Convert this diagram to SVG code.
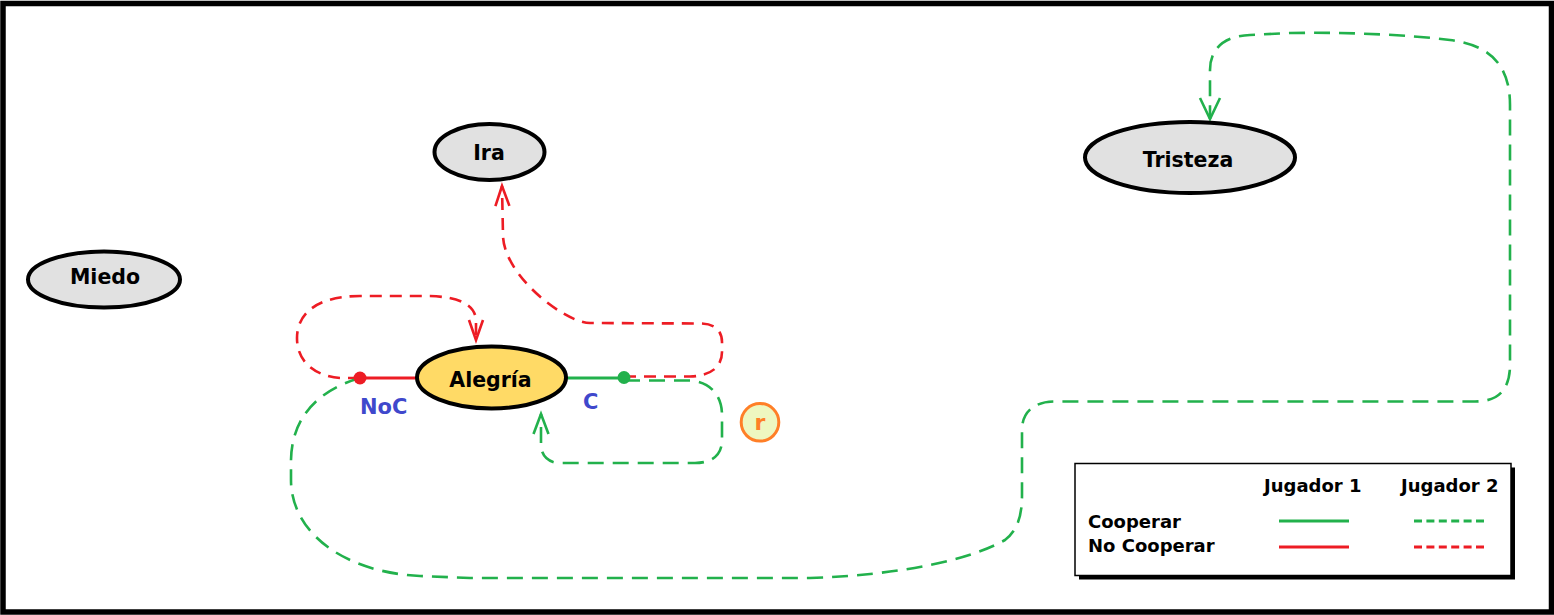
<svg xmlns="http://www.w3.org/2000/svg" width="1554" height="615" viewBox="0 0 1554 615">
<style>
.node{stroke:#000;stroke-width:4}
.gray{fill:#E1E1E1}
.lbl{font-family:"DejaVu Sans","Liberation Sans",sans-serif;font-weight:bold;font-size:20.5px;fill:#000;text-anchor:middle}
.lg{font-family:"DejaVu Sans","Liberation Sans",sans-serif;font-weight:bold;font-size:18px;fill:#000}
.act{font-family:"DejaVu Sans","Liberation Sans",sans-serif;font-weight:bold;font-size:21px;fill:#3F48CC}
.gd{fill:none;stroke:#22B14C;stroke-width:2.6;stroke-dasharray:16 9}
.rd{fill:none;stroke:#ED1C24;stroke-width:2.6;stroke-dasharray:12 8}
.gs{stroke:#22B14C;stroke-width:3}
.rs{stroke:#ED1C24;stroke-width:3}
</style>
<defs>
<marker id="arrR" markerUnits="userSpaceOnUse" orient="auto" refX="0" refY="0" markerWidth="30" markerHeight="30" viewBox="-25 -15 30 30" overflow="visible">
<path d="M-20,-7 L0,0 L-20,7" fill="none" stroke="#ED1C24" stroke-width="2.6"/>
</marker>
<marker id="arrG" markerUnits="userSpaceOnUse" orient="auto" refX="0" refY="0" markerWidth="30" markerHeight="30" viewBox="-25 -15 30 30" overflow="visible">
<path d="M-20,-7.5 L0,0 L-20,7.5" fill="none" stroke="#22B14C" stroke-width="2.6"/>
</marker>
<marker id="arrG2" markerUnits="userSpaceOnUse" orient="auto" refX="0" refY="0" markerWidth="30" markerHeight="30" viewBox="-25 -15 30 30" overflow="visible">
<path d="M-21,-10 L0,0 L-21,10" fill="none" stroke="#22B14C" stroke-width="2.6"/>
</marker>
</defs>
<rect x="3" y="3.5" width="1548.5" height="608.5" fill="#fff" stroke="#000" stroke-width="5.5"/>

<g id="connectors">
<path class="rd" d="M360,378 L340,378 C315,376 297,362 297,338 C297,315 315,296 360,296 L430,296 C460,297 475,305 476,320 L476,340" marker-end="url(#arrR)"/>
<path class="rd" d="M624,376.5 L690,376.5 C712,376 722,366 722,352 L722,342 C722,330 714,323.5 700,323.5 L590,323 C565,323 503,275 503,235 L502,186" marker-end="url(#arrR)"/>
<path class="gd" d="M624,380.5 L690,380.5 C710,382 722,395 722,415 L722,440 C722,455 712,463 695,463 L560,463 C548,463 541,455 541,445 L541,414" marker-end="url(#arrG)"/>
<path class="gd" d="M360,378 C335,385 292,405 291,460 L291,480 C291,530 340,572 420,576 L470,578 L810,578 C900,575 970,560 1005,540 C1018,530 1022,515 1022,495 L1022,430 C1022,413 1033,401.5 1055,401.5 L1475,401.5 C1498,401.5 1510,390 1510,365 L1510,105 C1510,65 1490,45 1450,40 C1410,35 1350,32 1290,33 L1250,35 C1225,36 1210,48 1210,70 L1210,119" marker-end="url(#arrG2)"/>
<line class="rs" x1="360" y1="378" x2="416" y2="378"/>
<line class="gs" x1="567" y1="378" x2="624" y2="378"/>
<circle cx="360" cy="378" r="6.5" fill="#ED1C24"/>
<circle cx="624" cy="377.5" r="6.5" fill="#22B14C"/>
<text class="act" x="360" y="414">NoC</text>
<text class="act" x="583" y="409">C</text>
</g>

<g id="ira">
<ellipse class="node gray" cx="489.5" cy="152" rx="55" ry="28"/>
<text class="lbl" x="489" y="160">Ira</text>
</g>
<g id="tristeza">
<ellipse class="node gray" cx="1190" cy="157.5" rx="105" ry="35.5"/>
<text class="lbl" x="1188" y="166.5">Tristeza</text>
</g>
<g id="miedo">
<ellipse class="node gray" cx="104" cy="279.5" rx="76" ry="28"/>
<text class="lbl" x="105" y="283.5">Miedo</text>
</g>
<g id="alegria">
<ellipse class="node" cx="491.5" cy="377.5" rx="74.5" ry="31" fill="#FFDA66"/>
<text class="lbl" x="490.5" y="386.5">Alegría</text>
</g>
<g id="r">
<circle cx="760" cy="422.3" r="18.8" fill="#EEF7C0" stroke="#FF7F27" stroke-width="3"/>
<text x="760" y="429.5" font-family="DejaVu Sans, Liberation Sans, sans-serif" font-weight="bold" font-size="22px" fill="#FF7F27" text-anchor="middle">r</text>
</g>

<g id="legend">
<rect x="1079" y="467.5" width="436" height="112" fill="#000"/>
<rect x="1075" y="463.5" width="436" height="112" fill="#fff" stroke="#000" stroke-width="1.5"/>
<text class="lg" x="1264" y="492">Jugador 1</text>
<text class="lg" x="1401" y="492">Jugador 2</text>
<text class="lg" x="1088" y="528">Cooperar</text>
<text class="lg" x="1088" y="552">No Cooperar</text>
<line class="gs" x1="1279" y1="521" x2="1349" y2="521"/>
<line class="rs" x1="1279" y1="547" x2="1349" y2="547"/>
<line class="gs" x1="1414" y1="521" x2="1484" y2="521" stroke-dasharray="8 4.4"/>
<line class="rs" x1="1414" y1="547" x2="1484" y2="547" stroke-dasharray="8 4.4"/>
</g>
</svg>
